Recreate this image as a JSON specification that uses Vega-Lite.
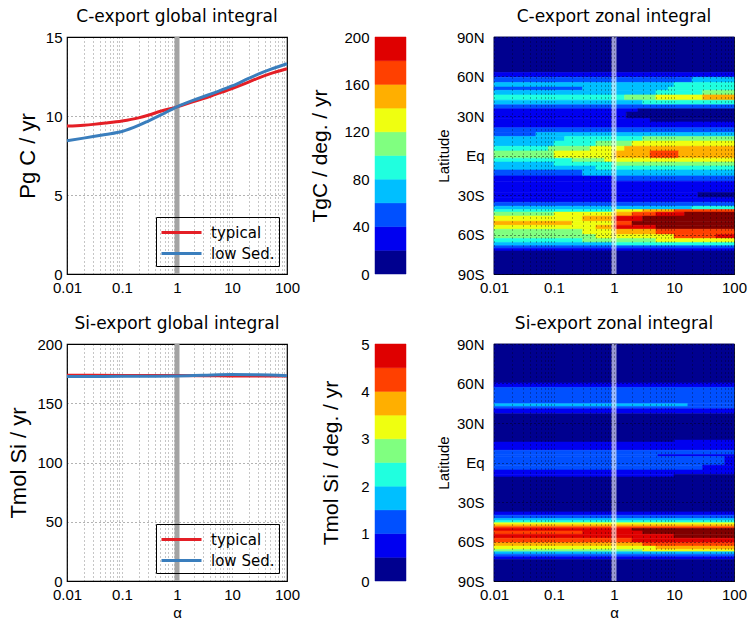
{
"$schema": "https://vega.github.io/schema/vega-lite/v6.json",
"background": "white",
"padding": {"left": 7, "top": 7, "right": 2, "bottom": 2},
"bounds": "flush",
"columns": 3,
"spacing": {"row": 70, "column": 88},
"config": {
 "font": "Liberation Sans",
 "view": {"stroke": "black", "strokeWidth": 1.2},
 "axis": {"labelFont": "Liberation Sans", "labelFontSize": 15, "labelColor": "black", "titleFont": "Liberation Sans", "titleFontWeight": "normal", "titleColor": "black", "ticks": false, "domain": false, "labelFlush": false, "labelOverlap": false, "labelPadding": 5, "grid": false},
 "title": {"font": "DejaVu Sans", "fontSize": 17, "fontWeight": "normal", "color": "black", "offset": 4, "anchor": "middle"},
 "legend": {"orient": "bottom-right", "offset": 8, "strokeColor": "black", "padding": 4, "symbolType": "M-2,0H2", "symbolSize": 400, "symbolOffset": 10, "symbolStrokeWidth": 3, "labelFont": "DejaVu Sans", "labelFontSize": 15, "labelColor": "black", "labelOffset": 18, "rowPadding": 1, "title": null}
},
"datasets": {
 "cl": [
  {"a":0.01,"v":9.36,"s":"typical"},{"a":0.02,"v":9.42,"s":"typical"},{"a":0.03,"v":9.47,"s":"typical"},{"a":0.05,"v":9.55,"s":"typical"},{"a":0.1,"v":9.68,"s":"typical"},{"a":0.2,"v":9.88,"s":"typical"},{"a":0.3,"v":10.05,"s":"typical"},{"a":0.5,"v":10.3,"s":"typical"},{"a":1,"v":10.58,"s":"typical"},{"a":2,"v":10.92,"s":"typical"},{"a":3,"v":11.1,"s":"typical"},{"a":5,"v":11.37,"s":"typical"},{"a":10,"v":11.74,"s":"typical"},{"a":20,"v":12.15,"s":"typical"},{"a":30,"v":12.4,"s":"typical"},{"a":50,"v":12.68,"s":"typical"},{"a":100,"v":12.99,"s":"typical"},
  {"a":0.01,"v":8.44,"s":"low Sed."},{"a":0.02,"v":8.6,"s":"low Sed."},{"a":0.03,"v":8.7,"s":"low Sed."},{"a":0.05,"v":8.83,"s":"low Sed."},{"a":0.1,"v":9.02,"s":"low Sed."},{"a":0.2,"v":9.4,"s":"low Sed."},{"a":0.3,"v":9.68,"s":"low Sed."},{"a":0.5,"v":10.05,"s":"low Sed."},{"a":1,"v":10.58,"s":"low Sed."},{"a":2,"v":11.0,"s":"low Sed."},{"a":3,"v":11.22,"s":"low Sed."},{"a":5,"v":11.5,"s":"low Sed."},{"a":10,"v":11.9,"s":"low Sed."},{"a":20,"v":12.38,"s":"low Sed."},{"a":30,"v":12.65,"s":"low Sed."},{"a":50,"v":12.95,"s":"low Sed."},{"a":100,"v":13.31,"s":"low Sed."}
 ],
 "sl": [
  {"a":0.01,"v":173.6,"s":"typical"},{"a":0.03,"v":173.55,"s":"typical"},{"a":0.1,"v":173.5,"s":"typical"},{"a":0.3,"v":173.45,"s":"typical"},{"a":1,"v":173.4,"s":"typical"},{"a":3,"v":173.3,"s":"typical"},{"a":10,"v":173.1,"s":"typical"},{"a":30,"v":173.0,"s":"typical"},{"a":100,"v":173.0,"s":"typical"},
  {"a":0.01,"v":172.6,"s":"low Sed."},{"a":0.03,"v":172.65,"s":"low Sed."},{"a":0.1,"v":172.7,"s":"low Sed."},{"a":0.3,"v":172.8,"s":"low Sed."},{"a":1,"v":173.0,"s":"low Sed."},{"a":3,"v":173.6,"s":"low Sed."},{"a":10,"v":174.2,"s":"low Sed."},{"a":30,"v":174.0,"s":"low Sed."},{"a":100,"v":173.2,"s":"low Sed."}
 ],
 "cb1": [
  {"lo":0,"hi":20,"v":10},{"lo":20,"hi":40,"v":30},{"lo":40,"hi":60,"v":50},{"lo":60,"hi":80,"v":70},{"lo":80,"hi":100,"v":90},{"lo":100,"hi":120,"v":110},{"lo":120,"hi":140,"v":130},{"lo":140,"hi":160,"v":150},{"lo":160,"hi":180,"v":170},{"lo":180,"hi":200,"v":190}
 ],
 "cb2": [
  {"lo":0,"hi":0.5,"v":0.25},{"lo":0.5,"hi":1,"v":0.75},{"lo":1,"hi":1.5,"v":1.25},{"lo":1.5,"hi":2,"v":1.75},{"lo":2,"hi":2.5,"v":2.25},{"lo":2.5,"hi":3,"v":2.75},{"lo":3,"hi":3.5,"v":3.25},{"lo":3.5,"hi":4,"v":3.75},{"lo":4,"hi":4.5,"v":4.25},{"lo":4.5,"hi":5,"v":4.75}
 ],
 "ch": [
  {"a0":0.01,"a1":100,"y0":63,"y1":90,"v":10},
  {"a0":0.01,"a1":100,"y0":59.5,"y1":63,"v":30},
  {"a0":0.01,"a1":20,"y0":55.5,"y1":59.5,"v":50},{"a0":20,"a1":100,"y0":55.5,"y1":59.5,"v":70},
  {"a0":0.01,"a1":10,"y0":52,"y1":55.5,"v":70},{"a0":10,"a1":100,"y0":52,"y1":55.5,"v":90},
  {"a0":0.01,"a1":0.3,"y0":49.5,"y1":52,"v":50},{"a0":0.3,"a1":8,"y0":49.5,"y1":52,"v":70},{"a0":8,"a1":100,"y0":49.5,"y1":52,"v":90},
  {"a0":0.01,"a1":5,"y0":46,"y1":49.5,"v":70},{"a0":5,"a1":30,"y0":46,"y1":49.5,"v":90},{"a0":30,"a1":100,"y0":46,"y1":49.5,"v":110},
  {"a0":0.01,"a1":1.5,"y0":42,"y1":46,"v":90},{"a0":1.5,"a1":5,"y0":42,"y1":46,"v":110},{"a0":5,"a1":30,"y0":42,"y1":46,"v":130},{"a0":30,"a1":100,"y0":42,"y1":46,"v":150},
  {"a0":0.01,"a1":3,"y0":38.5,"y1":42,"v":70},{"a0":3,"a1":100,"y0":38.5,"y1":42,"v":90},
  {"a0":0.01,"a1":100,"y0":35.5,"y1":38.5,"v":50},
  {"a0":0.01,"a1":2.5,"y0":33,"y1":35.5,"v":30},{"a0":2.5,"a1":100,"y0":33,"y1":35.5,"v":10},
  {"a0":0.01,"a1":1.6,"y0":28,"y1":33,"v":30},{"a0":1.6,"a1":100,"y0":28,"y1":33,"v":10},
  {"a0":0.01,"a1":4,"y0":25.5,"y1":28,"v":30},{"a0":4,"a1":100,"y0":25.5,"y1":28,"v":10},
  {"a0":0.01,"a1":100,"y0":21,"y1":25.5,"v":30},
  {"a0":0.01,"a1":100,"y0":17.5,"y1":21,"v":50},
  {"a0":0.01,"a1":0.05,"y0":14.5,"y1":17.5,"v":50},{"a0":0.05,"a1":100,"y0":14.5,"y1":17.5,"v":70},
  {"a0":0.01,"a1":0.15,"y0":11,"y1":14.5,"v":70},{"a0":0.15,"a1":3,"y0":11,"y1":14.5,"v":90},{"a0":3,"a1":100,"y0":11,"y1":14.5,"v":110},
  {"a0":0.01,"a1":0.1,"y0":7,"y1":11,"v":70},{"a0":0.1,"a1":0.5,"y0":7,"y1":11,"v":90},{"a0":0.5,"a1":2,"y0":7,"y1":11,"v":110},{"a0":2,"a1":100,"y0":7,"y1":11,"v":130},
  {"a0":0.01,"a1":0.08,"y0":3.5,"y1":7,"v":90},{"a0":0.08,"a1":0.4,"y0":3.5,"y1":7,"v":110},{"a0":0.4,"a1":1.5,"y0":3.5,"y1":7,"v":130},{"a0":1.5,"a1":100,"y0":3.5,"y1":7,"v":150},
  {"a0":0.01,"a1":0.1,"y0":-2,"y1":3.5,"v":110},{"a0":0.1,"a1":1,"y0":-2,"y1":3.5,"v":130},{"a0":1,"a1":4,"y0":-2,"y1":3.5,"v":150},{"a0":4,"a1":12,"y0":-2,"y1":3.5,"v":170},{"a0":12,"a1":100,"y0":-2,"y1":3.5,"v":150},
  {"a0":0.01,"a1":0.2,"y0":-5,"y1":-2,"v":90},{"a0":0.2,"a1":0.7,"y0":-5,"y1":-2,"v":110},{"a0":0.7,"a1":100,"y0":-5,"y1":-2,"v":130},
  {"a0":0.01,"a1":0.1,"y0":-8,"y1":-5,"v":70},{"a0":0.1,"a1":1,"y0":-8,"y1":-5,"v":90},{"a0":1,"a1":100,"y0":-8,"y1":-5,"v":110},
  {"a0":0.01,"a1":0.5,"y0":-11,"y1":-8,"v":70},{"a0":0.5,"a1":100,"y0":-11,"y1":-8,"v":90},
  {"a0":0.01,"a1":0.3,"y0":-15.5,"y1":-11,"v":50},{"a0":0.3,"a1":100,"y0":-15.5,"y1":-11,"v":70},
  {"a0":0.01,"a1":1,"y0":-19.5,"y1":-15.5,"v":30},{"a0":1,"a1":100,"y0":-19.5,"y1":-15.5,"v":50},
  {"a0":0.01,"a1":100,"y0":-28,"y1":-19.5,"v":30},
  {"a0":0.01,"a1":25,"y0":-32,"y1":-28,"v":30},{"a0":25,"a1":100,"y0":-32,"y1":-28,"v":10},
  {"a0":0.01,"a1":100,"y0":-35.5,"y1":-32,"v":30},
  {"a0":0.01,"a1":100,"y0":-38.5,"y1":-35.5,"v":50},
  {"a0":0.01,"a1":20,"y0":-41,"y1":-38.5,"v":70},{"a0":20,"a1":100,"y0":-41,"y1":-38.5,"v":90},
  {"a0":0.01,"a1":1,"y0":-43,"y1":-41,"v":90},{"a0":1,"a1":3,"y0":-43,"y1":-41,"v":130},{"a0":3,"a1":10,"y0":-43,"y1":-41,"v":150},{"a0":10,"a1":100,"y0":-43,"y1":-41,"v":170},
  {"a0":0.01,"a1":0.1,"y0":-46,"y1":-43,"v":110},{"a0":0.1,"a1":1,"y0":-46,"y1":-43,"v":130},{"a0":1,"a1":2,"y0":-46,"y1":-43,"v":150},{"a0":2,"a1":5,"y0":-46,"y1":-43,"v":170},{"a0":5,"a1":15,"y0":-46,"y1":-43,"v":190},{"a0":15,"a1":100,"y0":-46,"y1":-43,"v":210},
  {"a0":0.01,"a1":0.3,"y0":-50,"y1":-46,"v":130},{"a0":0.3,"a1":1,"y0":-50,"y1":-46,"v":150},{"a0":1,"a1":3,"y0":-50,"y1":-46,"v":190},{"a0":3,"a1":100,"y0":-50,"y1":-46,"v":210},
  {"a0":0.01,"a1":0.2,"y0":-53,"y1":-50,"v":150},{"a0":0.2,"a1":1,"y0":-53,"y1":-50,"v":130},{"a0":1,"a1":2,"y0":-53,"y1":-50,"v":170},{"a0":2,"a1":100,"y0":-53,"y1":-50,"v":210},
  {"a0":0.01,"a1":0.5,"y0":-56,"y1":-53,"v":130},{"a0":0.5,"a1":1,"y0":-56,"y1":-53,"v":150},{"a0":1,"a1":5,"y0":-56,"y1":-53,"v":190},{"a0":5,"a1":100,"y0":-56,"y1":-53,"v":210},
  {"a0":0.01,"a1":0.3,"y0":-60,"y1":-56,"v":110},{"a0":0.3,"a1":1,"y0":-60,"y1":-56,"v":130},{"a0":1,"a1":5,"y0":-60,"y1":-56,"v":150},{"a0":5,"a1":100,"y0":-60,"y1":-56,"v":170},
  {"a0":0.01,"a1":0.5,"y0":-63,"y1":-60,"v":110},{"a0":0.5,"a1":10,"y0":-63,"y1":-60,"v":130},{"a0":10,"a1":50,"y0":-63,"y1":-60,"v":170},{"a0":50,"a1":100,"y0":-63,"y1":-60,"v":190},
  {"a0":0.01,"a1":0.3,"y0":-66,"y1":-63,"v":90},{"a0":0.3,"a1":5,"y0":-66,"y1":-63,"v":110},{"a0":5,"a1":100,"y0":-66,"y1":-63,"v":130},
  {"a0":0.01,"a1":1,"y0":-68.5,"y1":-66,"v":70},{"a0":1,"a1":100,"y0":-68.5,"y1":-66,"v":90},
  {"a0":0.01,"a1":100,"y0":-70.5,"y1":-68.5,"v":50},
  {"a0":0.01,"a1":100,"y0":-72.5,"y1":-70.5,"v":30},
  {"a0":0.01,"a1":100,"y0":-90,"y1":-72.5,"v":10}
 ],
 "sh": [
  {"a0":0.01,"a1":100,"y0":60.3,"y1":90,"v":0.25},
  {"a0":0.01,"a1":100,"y0":57,"y1":60.3,"v":0.75},
  {"a0":0.01,"a1":100,"y0":44.6,"y1":57,"v":1.25},
  {"a0":0.01,"a1":17,"y0":42.6,"y1":44.6,"v":1.75},{"a0":17,"a1":100,"y0":42.6,"y1":44.6,"v":1.25},
  {"a0":0.01,"a1":100,"y0":40.8,"y1":42.6,"v":1.25},
  {"a0":0.01,"a1":100,"y0":37,"y1":40.8,"v":0.75},
  {"a0":0.01,"a1":100,"y0":17,"y1":37,"v":0.25},
  {"a0":0.01,"a1":10,"y0":15.5,"y1":17,"v":0.25},{"a0":10,"a1":100,"y0":15.5,"y1":17,"v":0.75},
  {"a0":0.01,"a1":100,"y0":9.3,"y1":15.5,"v":0.75},
  {"a0":0.01,"a1":100,"y0":6,"y1":9.3,"v":1.25},
  {"a0":0.01,"a1":5.4,"y0":4.5,"y1":6,"v":1.25},{"a0":5.4,"a1":100,"y0":4.5,"y1":6,"v":0.75},
  {"a0":0.01,"a1":70,"y0":-2,"y1":4.5,"v":1.25},{"a0":70,"a1":100,"y0":-2,"y1":4.5,"v":0.75},
  {"a0":0.01,"a1":30,"y0":-5.7,"y1":-2,"v":1.25},{"a0":30,"a1":100,"y0":-5.7,"y1":-2,"v":0.75},
  {"a0":0.01,"a1":100,"y0":-9,"y1":-5.7,"v":0.75},
  {"a0":0.01,"a1":10,"y0":-11,"y1":-9,"v":0.75},{"a0":10,"a1":100,"y0":-11,"y1":-9,"v":0.25},
  {"a0":0.01,"a1":100,"y0":-37.5,"y1":-11,"v":0.25},
  {"a0":0.01,"a1":100,"y0":-40,"y1":-37.5,"v":0.75},
  {"a0":0.01,"a1":100,"y0":-42.5,"y1":-40,"v":1.25},
  {"a0":0.01,"a1":100,"y0":-44.3,"y1":-42.5,"v":1.75},
  {"a0":0.01,"a1":100,"y0":-45.8,"y1":-44.3,"v":2.25},
  {"a0":0.01,"a1":100,"y0":-47.3,"y1":-45.8,"v":3.25},
  {"a0":0.01,"a1":100,"y0":-48.8,"y1":-47.3,"v":3.75},
  {"a0":0.01,"a1":100,"y0":-50,"y1":-48.8,"v":4.25},
  {"a0":0.01,"a1":2,"y0":-52,"y1":-50,"v":4.75},{"a0":2,"a1":100,"y0":-52,"y1":-50,"v":5.25},
  {"a0":0.01,"a1":0.3,"y0":-54.5,"y1":-52,"v":4.25},{"a0":0.3,"a1":3,"y0":-54.5,"y1":-52,"v":4.75},{"a0":3,"a1":100,"y0":-54.5,"y1":-52,"v":5.25},
  {"a0":0.01,"a1":10,"y0":-57.5,"y1":-54.5,"v":4.75},{"a0":10,"a1":100,"y0":-57.5,"y1":-54.5,"v":5.25},
  {"a0":0.01,"a1":2,"y0":-61,"y1":-57.5,"v":4.25},{"a0":2,"a1":100,"y0":-61,"y1":-57.5,"v":4.75},
  {"a0":0.01,"a1":3,"y0":-63.5,"y1":-61,"v":3.75},{"a0":3,"a1":100,"y0":-63.5,"y1":-61,"v":4.25},
  {"a0":0.01,"a1":5,"y0":-66,"y1":-63.5,"v":3.25},{"a0":5,"a1":100,"y0":-66,"y1":-63.5,"v":3.75},
  {"a0":0.01,"a1":3,"y0":-67.8,"y1":-66,"v":2.75},{"a0":3,"a1":100,"y0":-67.8,"y1":-66,"v":3.25},
  {"a0":0.01,"a1":100,"y0":-69.6,"y1":-67.8,"v":1.75},
  {"a0":0.01,"a1":100,"y0":-71.6,"y1":-69.6,"v":1.25},
  {"a0":0.01,"a1":100,"y0":-73.6,"y1":-71.6,"v":0.75},
  {"a0":0.01,"a1":100,"y0":-90,"y1":-73.6,"v":0.25}
 ]
},
"resolve": {"scale": {"color": "independent", "fill": "independent", "stroke": "independent"}, "legend": {"color": "independent", "fill": "independent", "stroke": "independent"}},
"concat": [
   {
    "width": 220, "height": 237,
    "title": {"text": "C-export global integral"},
    "layer": [
     {"data": {"values": [{}]}, "mark": {"type": "rule", "color": "#A3A3A3", "strokeWidth": 5}, "encoding": {"x": {"datum": 1, "type": "quantitative"}}},
     {"data": {"name": "cl"}, "mark": {"type": "line", "strokeWidth": 3, "interpolate": "monotone"},
      "encoding": {
       "x": {"field": "a", "type": "quantitative", "scale": {"type": "log", "domain": [0.01, 100]},
             "axis": {"title": null, "values": [0.01,0.02,0.03,0.04,0.05,0.06,0.07,0.08,0.09,0.1,0.2,0.3,0.4,0.5,0.6,0.7,0.8,0.9,1,2,3,4,5,6,7,8,9,10,20,30,40,50,60,70,80,90,100], "format": "~g", "labelExpr": "indexof(['0.01','0.1','1','10','100'], datum.label) >= 0 ? datum.label : ''", "grid": true, "gridColor": "#000", "gridOpacity": 0.45, "gridDash": [1, 3], "labelPadding": 6}},
       "y": {"field": "v", "type": "quantitative", "scale": {"domain": [0, 15]},
             "axis": {"title": "Pg C / yr", "titleFontSize": 22, "titlePadding": 6, "values": [0, 5, 10, 15], "grid": true, "gridColor": "#000", "gridOpacity": 0.6, "gridDash": [1, 3]}},
       "color": {"field": "s", "type": "nominal", "scale": {"domain": ["typical", "low Sed."], "range": ["#E41F26", "#3A7EBD"]}, "legend": {}}
      }}
    ]
   },
   {
    "width": 31, "height": 237,
    "view": {"stroke": null},
    "data": {"name": "cb1"},
    "mark": {"type": "rect", "strokeWidth": 0.5},
    "encoding": {
     "y": {"field": "lo", "type": "quantitative", "scale": {"domain": [0, 200]}, "axis": {"title": "TgC / deg. / yr", "titleFontSize": 21, "titlePadding": 13, "labelPadding": 6, "values": [0, 40, 80, 120, 160, 200]}},
     "y2": {"field": "hi"},
     "fill": {"field": "v", "type": "quantitative", "scale": {"type": "threshold", "domain": [20,40,60,80,100,120,140,160,180,200], "range": ["#00008F","#0000F0","#0050FF","#00BFFF","#20FFDF","#80FF80","#EFFF10","#FFAF00","#FF4000","#DF0000","#800000"]}, "legend": null},
     "stroke": {"field": "v", "type": "quantitative", "scale": {"type": "threshold", "domain": [20,40,60,80,100,120,140,160,180,200], "range": ["#00008F","#0000F0","#0050FF","#00BFFF","#20FFDF","#80FF80","#EFFF10","#FFAF00","#FF4000","#DF0000","#800000"]}, "legend": null}
    }
   },
   {
    "width": 240, "height": 237,
    "title": {"text": "C-export zonal integral"},
    "layer": [
     {"data": {"name": "ch"}, "mark": {"type": "rect", "strokeWidth": 0.6},
      "encoding": {
       "x": {"field": "a0", "type": "quantitative", "scale": {"type": "log", "domain": [0.01, 100]},
             "axis": {"title": null, "zindex": 1, "values": [0.01,0.02,0.03,0.04,0.05,0.06,0.07,0.08,0.09,0.1,0.2,0.3,0.4,0.5,0.6,0.7,0.8,0.9,1,2,3,4,5,6,7,8,9,10,20,30,40,50,60,70,80,90,100], "format": "~g", "labelExpr": "indexof(['0.01','0.1','1','10','100'], datum.label) >= 0 ? datum.label : ''", "grid": true, "gridColor": "#000", "gridOpacity": 0.6, "gridDash": [1, 3], "labelPadding": 6}},
       "x2": {"field": "a1"},
       "y": {"field": "y0", "type": "quantitative", "scale": {"domain": [-90, 90]},
             "axis": {"title": "Latitude", "titleFontSize": 15, "titlePadding": 5, "labelPadding": 10, "zindex": 1, "values": [-90,-60,-30,0,30,60,90], "labelExpr": "datum.value == 0 ? 'Eq' : (datum.value > 0 ? datum.value + 'N' : (-datum.value) + 'S')", "grid": true, "gridColor": "#000", "gridOpacity": 0.8, "gridDash": [1, 3]}},
       "y2": {"field": "y1"},
       "fill": {"field": "v", "type": "quantitative", "scale": {"type": "threshold", "domain": [20,40,60,80,100,120,140,160,180,200], "range": ["#00008F","#0000F0","#0050FF","#00BFFF","#20FFDF","#80FF80","#EFFF10","#FFAF00","#FF4000","#DF0000","#800000"]}, "legend": null},
       "stroke": {"field": "v", "type": "quantitative", "scale": {"type": "threshold", "domain": [20,40,60,80,100,120,140,160,180,200], "range": ["#00008F","#0000F0","#0050FF","#00BFFF","#20FFDF","#80FF80","#EFFF10","#FFAF00","#FF4000","#DF0000","#800000"]}, "legend": null}
      }},
     {"data": {"values": [{}]}, "mark": {"type": "rule", "color": "white", "opacity": 0.6, "strokeWidth": 5}, "encoding": {"x": {"datum": 1, "type": "quantitative"}}}
    ]
   },
   {
    "width": 220, "height": 237,
    "title": {"text": "Si-export global integral"},
    "layer": [
     {"data": {"values": [{}]}, "mark": {"type": "rule", "color": "#A3A3A3", "strokeWidth": 5}, "encoding": {"x": {"datum": 1, "type": "quantitative"}}},
     {"data": {"name": "sl"}, "mark": {"type": "line", "strokeWidth": 3, "interpolate": "monotone"},
      "encoding": {
       "x": {"field": "a", "type": "quantitative", "scale": {"type": "log", "domain": [0.01, 100]},
             "axis": {"title": "α", "titleFontSize": 15, "titlePadding": 3, "values": [0.01,0.02,0.03,0.04,0.05,0.06,0.07,0.08,0.09,0.1,0.2,0.3,0.4,0.5,0.6,0.7,0.8,0.9,1,2,3,4,5,6,7,8,9,10,20,30,40,50,60,70,80,90,100], "format": "~g", "labelExpr": "indexof(['0.01','0.1','1','10','100'], datum.label) >= 0 ? datum.label : ''", "grid": true, "gridColor": "#000", "gridOpacity": 0.45, "gridDash": [1, 3], "labelPadding": 6}},
       "y": {"field": "v", "type": "quantitative", "scale": {"domain": [0, 200]},
             "axis": {"title": "Tmol Si / yr", "titleFontSize": 22, "titlePadding": 6, "values": [0, 50, 100, 150, 200], "grid": true, "gridColor": "#000", "gridOpacity": 0.6, "gridDash": [1, 3]}},
       "color": {"field": "s", "type": "nominal", "scale": {"domain": ["typical", "low Sed."], "range": ["#E41F26", "#3A7EBD"]}, "legend": {}}
      }}
    ]
   },
   {
    "width": 31, "height": 237,
    "view": {"stroke": null},
    "data": {"name": "cb2"},
    "mark": {"type": "rect", "strokeWidth": 0.5},
    "encoding": {
     "y": {"field": "lo", "type": "quantitative", "scale": {"domain": [0, 5]}, "axis": {"title": "Tmol Si / deg. / yr", "titleFontSize": 21, "titlePadding": 19, "labelPadding": 6, "values": [0, 1, 2, 3, 4, 5]}},
     "y2": {"field": "hi"},
     "fill": {"field": "v", "type": "quantitative", "scale": {"type": "threshold", "domain": [0.5,1,1.5,2,2.5,3,3.5,4,4.5,5], "range": ["#00008F","#0000F0","#0050FF","#00BFFF","#20FFDF","#80FF80","#EFFF10","#FFAF00","#FF4000","#DF0000","#800000"]}, "legend": null},
     "stroke": {"field": "v", "type": "quantitative", "scale": {"type": "threshold", "domain": [0.5,1,1.5,2,2.5,3,3.5,4,4.5,5], "range": ["#00008F","#0000F0","#0050FF","#00BFFF","#20FFDF","#80FF80","#EFFF10","#FFAF00","#FF4000","#DF0000","#800000"]}, "legend": null}
    }
   },
   {
    "width": 240, "height": 237,
    "title": {"text": "Si-export zonal integral"},
    "layer": [
     {"data": {"name": "sh"}, "mark": {"type": "rect", "strokeWidth": 0.6},
      "encoding": {
       "x": {"field": "a0", "type": "quantitative", "scale": {"type": "log", "domain": [0.01, 100]},
             "axis": {"title": "α", "titleFontSize": 15, "titlePadding": 3, "zindex": 1, "values": [0.01,0.02,0.03,0.04,0.05,0.06,0.07,0.08,0.09,0.1,0.2,0.3,0.4,0.5,0.6,0.7,0.8,0.9,1,2,3,4,5,6,7,8,9,10,20,30,40,50,60,70,80,90,100], "format": "~g", "labelExpr": "indexof(['0.01','0.1','1','10','100'], datum.label) >= 0 ? datum.label : ''", "grid": true, "gridColor": "#000", "gridOpacity": 0.6, "gridDash": [1, 3], "labelPadding": 6}},
       "x2": {"field": "a1"},
       "y": {"field": "y0", "type": "quantitative", "scale": {"domain": [-90, 90]},
             "axis": {"title": "Latitude", "titleFontSize": 15, "titlePadding": 5, "labelPadding": 10, "zindex": 1, "values": [-90,-60,-30,0,30,60,90], "labelExpr": "datum.value == 0 ? 'Eq' : (datum.value > 0 ? datum.value + 'N' : (-datum.value) + 'S')", "grid": true, "gridColor": "#000", "gridOpacity": 0.8, "gridDash": [1, 3]}},
       "y2": {"field": "y1"},
       "fill": {"field": "v", "type": "quantitative", "scale": {"type": "threshold", "domain": [0.5,1,1.5,2,2.5,3,3.5,4,4.5,5], "range": ["#00008F","#0000F0","#0050FF","#00BFFF","#20FFDF","#80FF80","#EFFF10","#FFAF00","#FF4000","#DF0000","#800000"]}, "legend": null},
       "stroke": {"field": "v", "type": "quantitative", "scale": {"type": "threshold", "domain": [0.5,1,1.5,2,2.5,3,3.5,4,4.5,5], "range": ["#00008F","#0000F0","#0050FF","#00BFFF","#20FFDF","#80FF80","#EFFF10","#FFAF00","#FF4000","#DF0000","#800000"]}, "legend": null}
      }},
     {"data": {"values": [{}]}, "mark": {"type": "rule", "color": "white", "opacity": 0.6, "strokeWidth": 5}, "encoding": {"x": {"datum": 1, "type": "quantitative"}}}
    ]
   }
]
}
